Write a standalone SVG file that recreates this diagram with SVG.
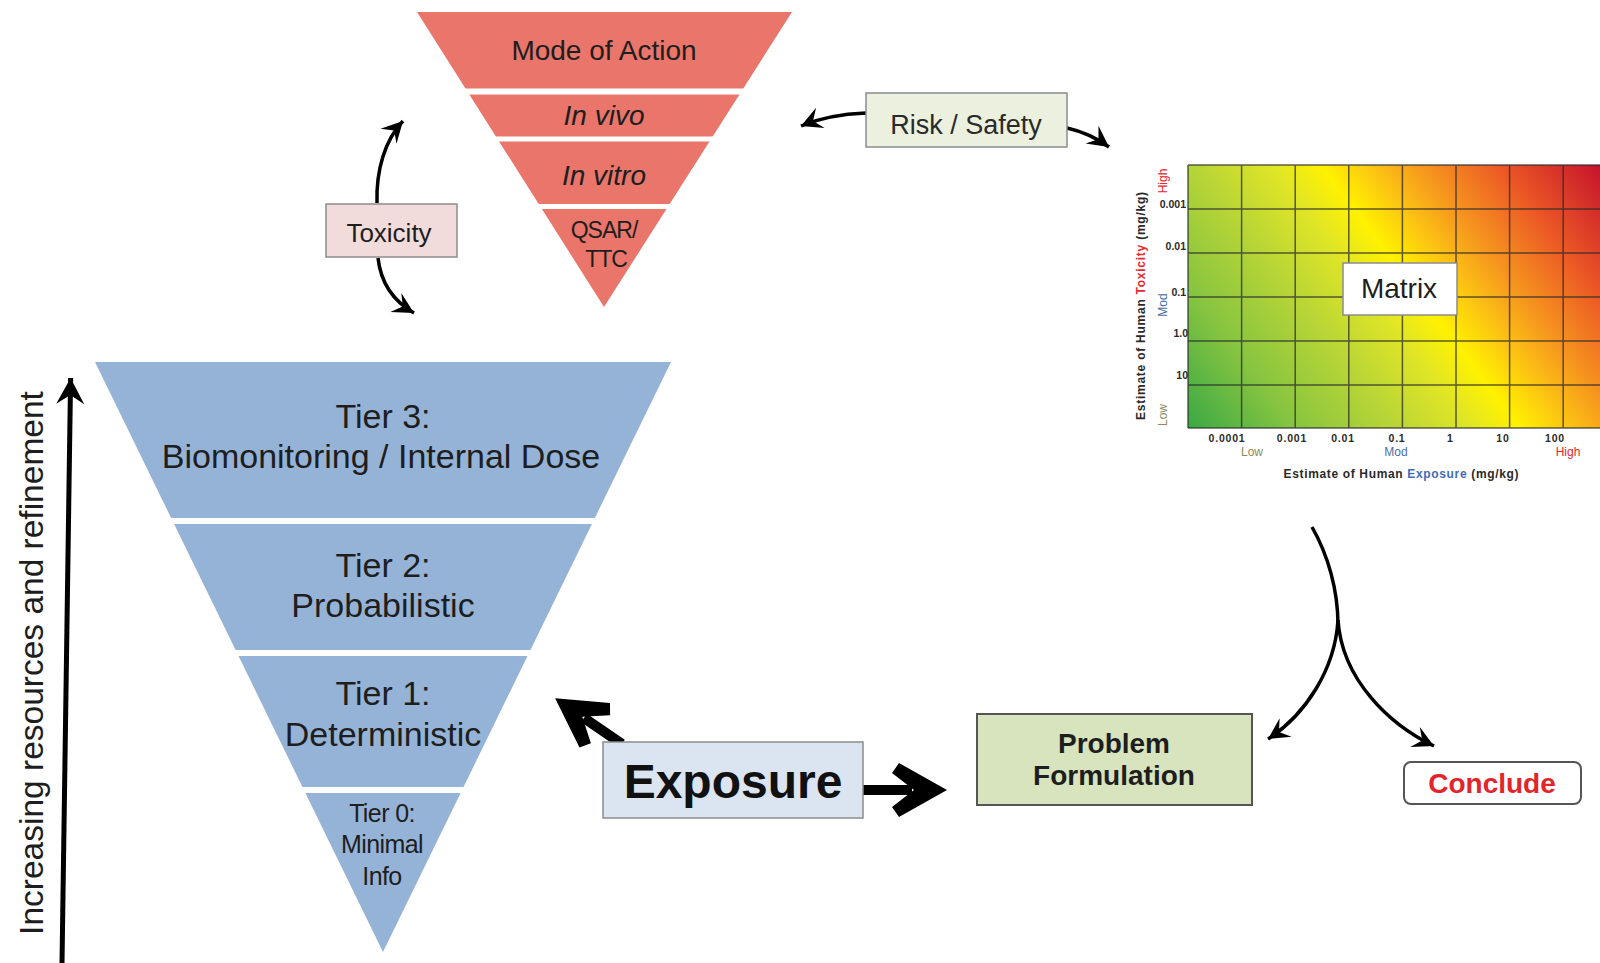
<svg xmlns="http://www.w3.org/2000/svg" width="1600" height="963" viewBox="0 0 1600 963" fill="#1e1e1e">
<defs>
<style>
text{font-family:"Liberation Sans",Arial,sans-serif}
.box{stroke:#8c8c8c;stroke-width:1.5}
.wl{stroke:#fff;stroke-width:6}
.tier{font-size:34px;text-anchor:middle}
.red{font-size:28px;text-anchor:middle}
.con{fill:none;stroke:#000;stroke-width:3.5}
.thick{fill:none;stroke:#000;stroke-width:10}
.grid{stroke:#2a2a2a;stroke-opacity:0.75;stroke-width:1.5;fill:none}
.tick{font-size:10.5px;font-weight:bold}
.lvl{font-size:12px}
</style>
<marker id="ah" markerUnits="userSpaceOnUse" orient="auto" markerWidth="1" markerHeight="1" refX="0" refY="0" overflow="visible">
<path d="M0,0 L-21,-11 L-13,0 L-21,11 Z" fill="#000"/>
</marker>
<marker id="ahv" markerUnits="userSpaceOnUse" orient="auto" markerWidth="1" markerHeight="1" refX="0" refY="0" overflow="visible">
<path d="M0,0 L-26,-14 L-17,0 L-26,14 Z" fill="#000"/>
</marker>
<marker id="ahk" markerUnits="userSpaceOnUse" orient="auto" markerWidth="1" markerHeight="1" refX="-35" refY="0" overflow="visible">
<path d="M0,0 L-48,-27 L-55,-17 L-33,0 L-55,17 L-48,27 Z" fill="#000"/>
</marker>
<linearGradient id="heat" gradientUnits="userSpaceOnUse" x1="1209" y1="456" x2="1598" y2="161">
<stop offset="0" stop-color="#3aa845"/>
<stop offset="0.174" stop-color="#86c440"/>
<stop offset="0.338" stop-color="#b8d536"/>
<stop offset="0.461" stop-color="#e0e526"/>
<stop offset="0.543" stop-color="#fff100"/>
<stop offset="0.625" stop-color="#fcc313"/>
<stop offset="0.707" stop-color="#f6961e"/>
<stop offset="0.83" stop-color="#ec5a25"/>
<stop offset="1" stop-color="#c5122d"/>
</linearGradient>
</defs>
<rect width="1600" height="963" fill="#fff"/>

<g id="connectors">
<path class="con" d="M377,203 C376,170 385,140 403,121" marker-end="url(#ah)"/>
<path class="con" d="M378,258 C381,285 395,302 414,313" marker-end="url(#ah)"/>
<path class="con" d="M866,113 C840,114 820,118 801,126" marker-end="url(#ah)"/>
<path class="con" d="M1067,128 C1085,132 1098,139 1109,147" marker-end="url(#ah)"/>
<path class="con" d="M1312,527 C1328,555 1338,590 1338,625"/>
<path class="con" d="M1338,620 C1335,670 1305,715 1268,739" marker-end="url(#ah)"/>
<path class="con" d="M1338,620 C1342,680 1390,725 1434,746" marker-end="url(#ah)"/>
<path class="thick" d="M622,744 L584,718" marker-end="url(#ahk)"/>
<path class="thick" d="M860,790 L912,790" marker-end="url(#ahk)"/>
<path fill="none" stroke="#000" stroke-width="5" d="M62,963 L70.6,378" marker-end="url(#ahv)"/>
</g>

<g id="axis-label">
<text transform="translate(43,663) rotate(-90)" font-size="33.5" text-anchor="middle">Increasing resources and refinement</text>
</g>

<g id="toxicity-pyramid">
<polygon points="417,12 792,12 604,307" fill="#e9756b"/>
<line class="wl" x1="400" y1="91.5" x2="810" y2="91.5"/>
<line class="wl" x1="400" y1="139" x2="810" y2="139" style="stroke-width:5"/>
<line class="wl" x1="400" y1="206.5" x2="810" y2="206.5" style="stroke-width:5"/>
<text class="red" x="604" y="60">Mode of Action</text>
<text class="red" x="604" y="125" font-style="italic">In vivo</text>
<text class="red" x="604" y="185" font-style="italic">In vitro</text>
<text class="red" x="604" y="238" style="font-size:23px;letter-spacing:-1px">QSAR/</text>
<text class="red" x="606" y="267" style="font-size:23px;letter-spacing:-1px">TTC</text>
</g>

<g id="exposure-tiers">
<polygon points="95,362 671,362 383,952" fill="#95b3d7"/>
<line class="wl" x1="88" y1="521" x2="680" y2="521"/>
<line class="wl" x1="88" y1="653" x2="680" y2="653"/>
<line class="wl" x1="88" y1="790" x2="680" y2="790"/>
<text class="tier" x="383" y="428">Tier 3:</text>
<text class="tier" x="381" y="468">Biomonitoring / Internal Dose</text>
<text class="tier" x="383" y="577">Tier 2:</text>
<text class="tier" x="383" y="617">Probabilistic</text>
<text class="tier" x="383" y="705">Tier 1:</text>
<text class="tier" x="383" y="746">Deterministic</text>
<text class="tier" x="382" y="822" style="font-size:25px;letter-spacing:-0.6px">Tier 0:</text>
<text class="tier" x="382" y="853" style="font-size:25px;letter-spacing:-0.6px">Minimal</text>
<text class="tier" x="382" y="885" style="font-size:25px;letter-spacing:-0.6px">Info</text>
</g>

<g id="toxicity">
<rect class="box" x="326" y="204" width="131" height="53" fill="#f2dcdb"/>
<text x="389" y="242" font-size="26" text-anchor="middle">Toxicity</text>
</g>

<g id="risk-safety">
<rect class="box" x="866" y="93" width="201" height="54" fill="#ebf1de"/>
<text x="966" y="134" font-size="27" text-anchor="middle" fill="#2a2a2a">Risk / Safety</text>
</g>

<g id="matrix">
<rect x="1188" y="165" width="412" height="263" fill="url(#heat)"/>
<path class="grid" d="M1188,165 V428 M1241.6,165 V428 M1295.2,165 V428 M1348.8,165 V428 M1402.4,165 V428 M1456,165 V428 M1509.6,165 V428 M1563.2,165 V428 M1188,165 H1600 M1188,209 H1600 M1188,253 H1600 M1188,297 H1600 M1188,341 H1600 M1188,385 H1600 M1188,428 H1600"/>
<g fill="#2a2a2a" text-anchor="end">
<text class="tick" x="1186" y="208">0.001</text>
<text class="tick" x="1186" y="250">0.01</text>
<text class="tick" x="1186" y="296">0.1</text>
<text class="tick" x="1188" y="337">1.0</text>
<text class="tick" x="1188" y="379">10</text>
</g>
<g fill="#2a2a2a" text-anchor="middle">
<text class="tick" x="1227" y="442" letter-spacing="0.8">0.0001</text>
<text class="tick" x="1292" y="442" letter-spacing="0.8">0.001</text>
<text class="tick" x="1343" y="442" letter-spacing="0.8">0.01</text>
<text class="tick" x="1397" y="442" letter-spacing="0.8">0.1</text>
<text class="tick" x="1450" y="442">1</text>
<text class="tick" x="1503" y="442" letter-spacing="0.8">10</text>
<text class="tick" x="1555" y="442" letter-spacing="0.8">100</text>
<text class="lvl" x="1252" y="456" fill="#8c8c5c">Low</text>
<text class="lvl" x="1396" y="456" fill="#4a6fa8">Mod</text>
<text class="lvl" x="1568" y="456" fill="#e8262b">High</text>
<text x="1401" y="478" font-size="12" font-weight="bold" textLength="235" lengthAdjust="spacing">Estimate of Human <tspan fill="#3f6db5">Exposure</tspan> (mg/kg)</text>
</g>
<text class="lvl" transform="translate(1167,181) rotate(-90)" text-anchor="middle" fill="#e8262b">High</text>
<text class="lvl" transform="translate(1167,305) rotate(-90)" text-anchor="middle" fill="#4a6fa8">Mod</text>
<text class="lvl" transform="translate(1167,415) rotate(-90)" text-anchor="middle" fill="#8c8c5c">Low</text>
<text transform="translate(1145,306) rotate(-90)" font-size="12" font-weight="bold" text-anchor="middle" textLength="228" lengthAdjust="spacing" fill="#2a2a2a">Estimate of Human <tspan fill="#e8262b">Toxicity</tspan> (mg/kg)</text>
<rect class="box" x="1343" y="263" width="114" height="52" fill="#fff"/>
<text x="1399" y="298" font-size="28" text-anchor="middle">Matrix</text>
</g>

<g id="exposure">
<rect class="box" x="603" y="742" width="260" height="76" fill="#dbe5f1"/>
<text x="733" y="798" font-size="48" font-weight="bold" text-anchor="middle" fill="#111">Exposure</text>
</g>

<g id="problem-formulation">
<rect x="977" y="714" width="275" height="91" fill="#d7e4bd" stroke="#555" stroke-width="2"/>
<text x="1114" y="753" font-size="28" font-weight="bold" text-anchor="middle">Problem</text>
<text x="1114" y="785" font-size="28" font-weight="bold" text-anchor="middle">Formulation</text>
</g>

<g id="conclude">
<rect x="1404" y="762" width="177" height="42" rx="7" fill="#fff" stroke="#555" stroke-width="2"/>
<text x="1492" y="793" font-size="28" font-weight="bold" text-anchor="middle" fill="#e3242b">Conclude</text>
</g>
</svg>
